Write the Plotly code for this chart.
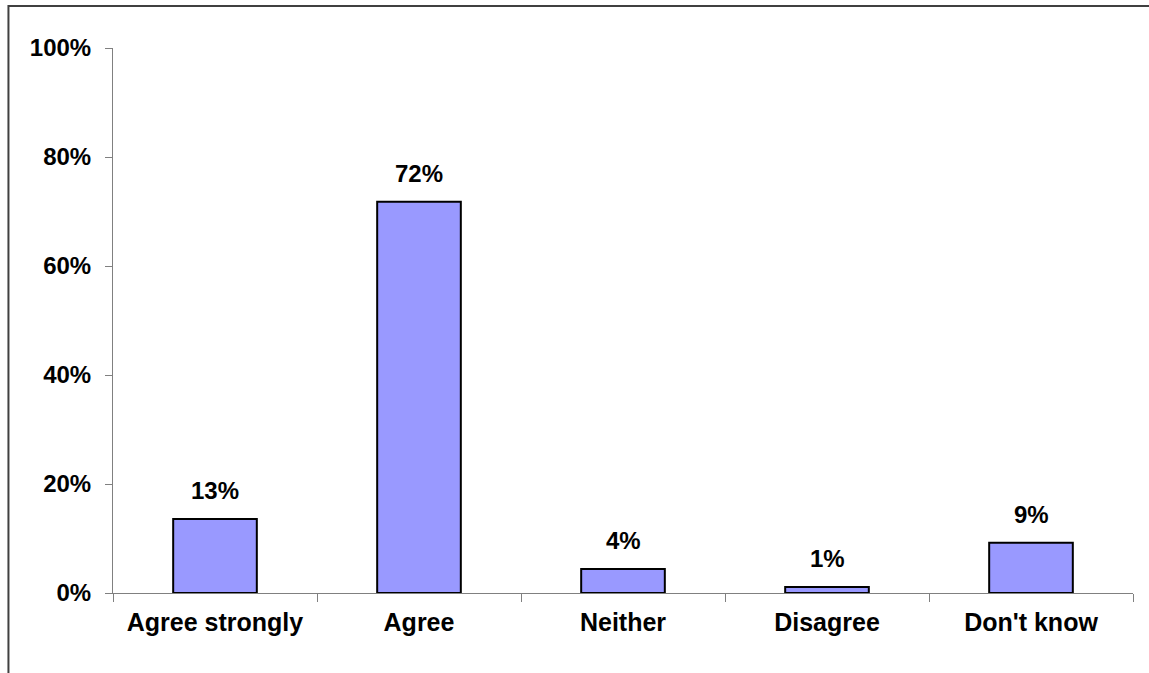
import plotly.graph_objects as go

categories = ["Agree strongly", "Agree", "Neither", "Disagree", "Don't know"]
values = [0.136, 0.718, 0.044, 0.011, 0.092]
labels = ["13%", "72%", "4%", "1%", "9%"]

FONT = "Liberation Sans, Arial, Helvetica, sans-serif"

fig = go.Figure(
    go.Bar(
        x=categories,
        y=values,
        width=0.41,
        marker=dict(color="#9999FF", line=dict(color="#000000", width=2)),
        hoverinfo="skip",
    )
)

for c, v, t in zip(categories, values, labels):
    fig.add_annotation(
        x=c, y=v, text=t, showarrow=False, yanchor="bottom", yshift=13,
        font=dict(family=FONT, size=24, color="#000000", weight="bold"),
    )

fig.add_shape(
    type="rect", xref="paper", yref="paper",
    x0=-0.1025, x1=2.0, y0=-0.6, y1=1.077,
    line=dict(color="#404040", width=2), fillcolor="rgba(0,0,0,0)", layer="below",
)

fig.update_layout(
    width=1149, height=673,
    margin=dict(l=113, r=16, t=48, b=79.5),
    paper_bgcolor="white", plot_bgcolor="white",
    showlegend=False,
    bargap=0.59,
    xaxis=dict(
        showline=True, linecolor="#808080", linewidth=1,
        ticks="outside", ticklen=8, tickcolor="#808080", tickwidth=1,
        tickson="boundaries",
        tickfont=dict(family=FONT, size=25, color="#000000", weight="bold"),
        ticklabelstandoff=7,
        showgrid=False, zeroline=False, fixedrange=True,
    ),
    yaxis=dict(
        range=[0, 1], dtick=0.2, tickformat=".0%",
        showline=True, linecolor="#808080", linewidth=1,
        ticks="outside", ticklen=7, tickcolor="#808080", tickwidth=1,
        tickfont=dict(family=FONT, size=24, color="#000000", weight="bold"),
        ticklabelstandoff=9,
        showgrid=False, zeroline=False, fixedrange=True,
    ),
)

fig.write_html("out.html")
